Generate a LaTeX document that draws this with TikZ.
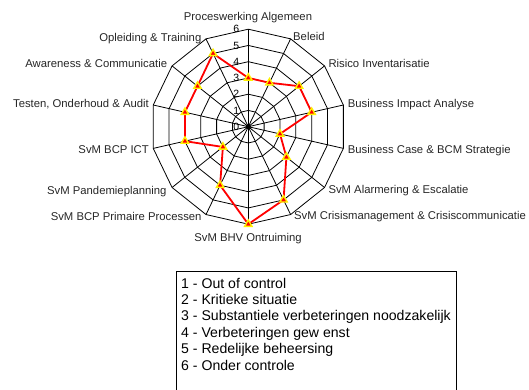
\documentclass[tikz,border=0pt]{standalone}
\usepackage{fontspec}
\setmainfont{Liberation Sans}
\usetikzlibrary{shapes.geometric}
\begin{document}
\begin{tikzpicture}[x=1pt,y=1pt,
  gridline/.style={black, line width=0.8pt},
  series/.style={red, line width=1.8pt, line join=round},
  mk/.style={regular polygon, regular polygon sides=3, minimum size=8.5pt, inner sep=0pt,
             fill=red, draw=yellow, line width=1.4pt},
  axlab/.style={inner sep=0pt, font=\fontsize{11.3}{13}\selectfont, text=black!85},
  numlab/.style={inner sep=0pt, anchor=base east, font=\fontsize{10.5}{12}\selectfont},
  leglab/.style={inner sep=0pt, anchor=base west, font=\fontsize{14.1}{16}\selectfont}]
\useasboundingbox (0,0) rectangle (529,390);
\begin{scope}[shift={(248.3,263.3)}]
  % rings
  \foreach \k in {1,...,6}{
    \draw[gridline] (90:{16.25*\k}) \foreach \i in {1,...,13}{ -- ({90-\i*360/14}:{16.25*\k}) } -- cycle;
  }
  % spokes
  \foreach \i in {0,...,13}{
    \draw[gridline] (0,0) -- ({90-\i*360/14}:97.5);
  }
  \fill (0,0) circle (2.6);
  % scale numbers
  \foreach \k in {0,...,6}{
    \node[numlab] (n\k) at (-8.8,{16.25*\k-3.7}) {\k};
  }
  % data points
  \foreach \v [count=\i from 0] in {3,3,4,4,2,3,5,6,4,2,4,4,4,5}{
    \coordinate (p\i) at ({90-\i*360/14}:{16.25*\v});
  }
  \draw[series] (p0) -- (p1) -- (p2) -- (p3) -- (p4) -- (p5) -- (p6) -- (p7)
     -- (p8) -- (p9) -- (p10) -- (p11) -- (p12) -- (p13) -- cycle;
  \foreach \i in {0,...,13}{
    \node[mk] (m\i) at (p\i) {};
  }
\end{scope}
% axis labels
\node[axlab, anchor=base] (a0) at (248,369.5) {Proceswerking Algemeen};
\node[axlab, anchor=base west] (a1) at (293,349.2) {Beleid};
\node[axlab, anchor=base west] (a2) at (328.3,322) {Risico Inventarisatie};
\node[axlab, anchor=base west] (a3) at (347.7,282.6) {Business Impact Analyse};
\node[axlab, anchor=base west] (a4) at (347.7,236) {Business Case \& BCM Strategie};
\node[axlab, anchor=base west] (a5) at (328.3,196) {SvM Alarmering \& Escalatie};
\node[axlab, anchor=base west] (a6) at (294,170) {SvM Crisismanagement \& Crisiscommunicatie};
\node[axlab, anchor=base] (a7) at (248,148.5) {SvM BHV Ontruiming};
\node[axlab, anchor=base east] (a8) at (201.7,169.3) {SvM BCP Primaire Processen};
\node[axlab, anchor=base east] (a9) at (166.7,195.3) {SvM Pandemieplanning};
\node[axlab, anchor=base east] (a10) at (149,236) {SvM BCP ICT};
\node[axlab, anchor=base east] (a11) at (149,282.6) {Testen, Onderhoud \& Audit};
\node[axlab, anchor=base east] (a12) at (167.3,322) {Awareness \& Communicatie};
\node[axlab, anchor=base east] (a13) at (201.5,348.7) {Opleiding \& Training};
% legend
\draw[line width=0.8pt] (176,0) -- (176,119) -- (456,119) -- (456,0);
\node[leglab] (l1) at (181,101.7) {1 - Out of control};
\node[leglab] (l2) at (181,85.3) {2 - Kritieke situatie};
\node[leglab] (l3) at (181,69) {3 - Substantiele verbeteringen noodzakelijk};
\node[leglab] (l4) at (181,52.6) {4 - Verbeteringen gew enst};
\node[leglab] (l5) at (181,36.2) {5 - Redelijke beheersing};
\node[leglab] (l6) at (181,19.8) {6 - Onder controle};
\end{tikzpicture}
\end{document}
